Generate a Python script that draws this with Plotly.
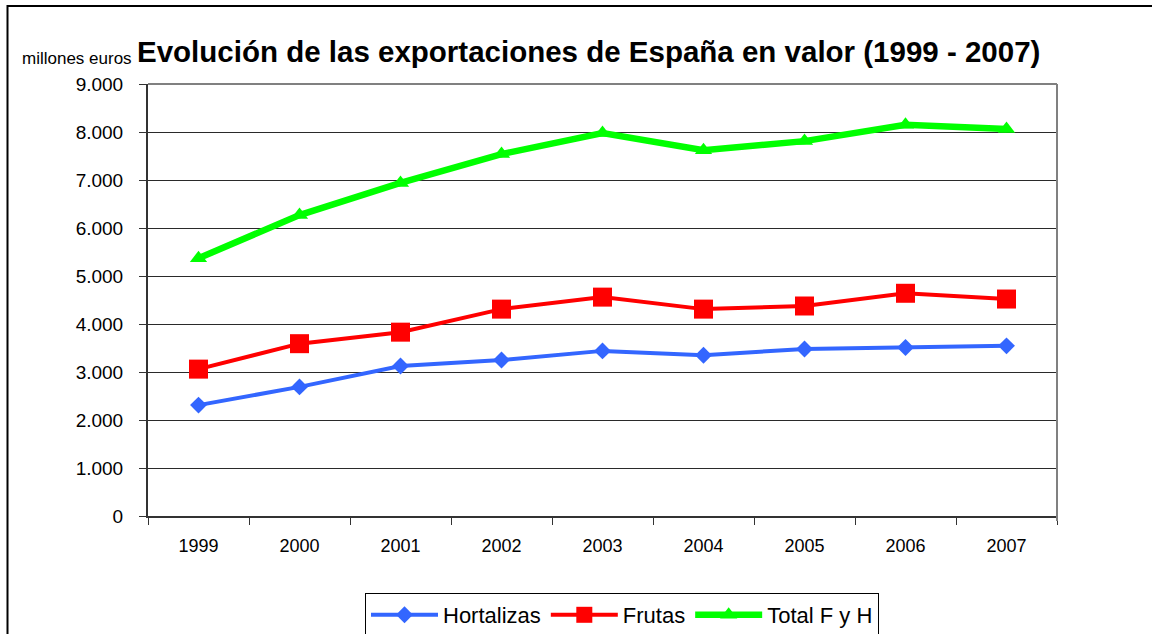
import plotly.graph_objects as go

years = ["1999", "2000", "2001", "2002", "2003", "2004", "2005", "2006", "2007"]
hortalizas = [2310, 2690, 3125, 3250, 3440, 3350, 3480, 3510, 3545]
frutas = [3060, 3590, 3830, 4310, 4560, 4310, 4375, 4640, 4520]
total = [5370, 6270, 6940, 7540, 7980, 7620, 7810, 8150, 8060]

FONT = "Liberation Sans, Arial, sans-serif"

fig = go.Figure()
fig.add_trace(go.Scatter(x=years, y=hortalizas, name="Hortalizas", mode="lines+markers",
                         line=dict(color="#3366FF", width=4),
                         marker=dict(symbol="diamond", size=13, color="#3366FF")))
fig.add_trace(go.Scatter(x=years, y=frutas, name="Frutas", mode="lines+markers",
                         line=dict(color="#FF0000", width=4),
                         marker=dict(symbol="square", size=19, color="#FF0000")))
fig.add_trace(go.Scatter(x=years, y=total, name="Total F y H", mode="lines+markers",
                         line=dict(color="#00FF00", width=6.5),
                         marker=dict(symbol="triangle-up", size=15, color="#00FF00")))

L, R, T, B = 148, 95, 84, 118
W, H = 1152, 634
pw, ph = W - L - R, H - T - B

def px(x):
    return (x - L) / pw

def py(y):
    return (H - B - y) / ph

fig.update_layout(
    width=W, height=H,
    margin=dict(l=L, r=R, t=T, b=B, autoexpand=False),
    paper_bgcolor="white", plot_bgcolor="white",
    separators=",.",
    font=dict(family=FONT, size=18, color="black"),
    showlegend=True,
    legend=dict(orientation="h", x=px(622), xanchor="center", y=py(593), yanchor="top",
                bordercolor="black", borderwidth=1, font=dict(size=22),
                itemwidth=67, tracegroupgap=0),
    xaxis=dict(type="category", range=[-0.5, len(years) - 0.5], tickson="boundaries",
               ticks="outside", ticklen=7,
               tickcolor="#333333", showline=True, linecolor="#333333", linewidth=2,
               showgrid=False, tickfont=dict(size=18), ticklabelstandoff=12,
               fixedrange=True),
    yaxis=dict(range=[0, 9000], dtick=1000, tickformat=",d", ticks="outside", ticklen=7,
               tickcolor="#333333", showline=True, linecolor="#333333", linewidth=2,
               showgrid=True, gridcolor="#2a2a2a", gridwidth=1, zeroline=False,
               tickfont=dict(size=19), ticklabelstandoff=12, fixedrange=True),
    shapes=[
        dict(type="line", xref="paper", yref="paper", x0=1, x1=1, y0=py(521), y1=1,
             line=dict(color="#808080", width=2)),
        dict(type="line", xref="paper", yref="paper", x0=0, x1=1, y0=1, y1=1,
             line=dict(color="#808080", width=2)),
        dict(type="rect", xref="paper", yref="paper", x0=px(7.5), x1=px(1300), y0=py(800), y1=py(6),
             line=dict(color="black", width=2), layer="below"),
    ],
    annotations=[
        dict(text="<b>Evolución de las exportaciones de España en valor (1999 - 2007)</b>",
             xref="paper", yref="paper", x=px(588.5), y=py(52), xanchor="center", yanchor="middle",
             showarrow=False, font=dict(size=29.5, family=FONT, color="black")),
        dict(text="millones euros", xref="paper", yref="paper", x=px(134), y=py(58),
             xanchor="right", yanchor="middle", showarrow=False,
             font=dict(size=17, family=FONT, color="black")),
    ],
)

fig.write_html("out.html", config={"displayModeBar": False},
               post_script="document.body.style.margin='0';"
                           "document.documentElement.style.overflow='hidden';"
                           "document.body.style.overflow='hidden';")
